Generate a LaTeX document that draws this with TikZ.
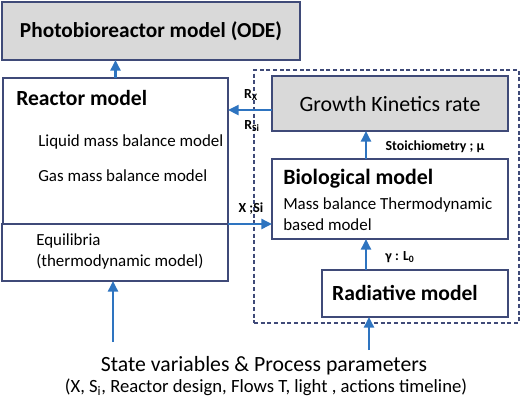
\documentclass[tikz,border=0pt]{standalone}
\usepackage{fontspec}
\setmainfont{Carlito}
\usetikzlibrary{arrows.meta,positioning}
\definecolor{boxline}{HTML}{3F4A78}
\definecolor{boxfill}{HTML}{D9D9D9}
\definecolor{flow}{HTML}{2E74C0}
\tikzset{
  modelbox/.style={draw=boxline, line width=0.8pt, inner sep=0pt, outer sep=0pt},
  greybox/.style={modelbox, fill=boxfill},
  groupbox/.style={draw=boxline, line width=0.8pt, dash pattern=on 3pt off 2pt},
  txt/.style={inner sep=0pt, anchor=west, font=\fontsize{12.7}{15.75}\selectfont},
  head/.style={inner sep=0pt, anchor=west, font=\bfseries\fontsize{16.2}{19}\selectfont},
  lab/.style={inner sep=0pt, font=\bfseries\fontsize{10.4}{11}\selectfont},
  arr/.style={-{Triangle[length=8pt,width=7.5pt]}, line width=1.8pt, draw=flow}
}

\begin{document}
\begin{tikzpicture}[x=0.75pt,y=-0.75pt]
  \useasboundingbox (0,0) rectangle (526,408);
  % grouped sub-models
  \node[groupbox, minimum width=198.75pt, minimum height=189.75pt] (group) at (386.5,196.5) {};
  % boxes
  \node[greybox, minimum width=223.5pt, minimum height=43.5pt,
        font=\bfseries\fontsize{16}{19}\selectfont] (pbr) at (151,31) {Photobioreactor model (ODE)};
  \node[modelbox, minimum width=168.75pt, minimum height=109.5pt] (reactor) at (115.5,151) {};
  \node[modelbox, minimum width=169.5pt, minimum height=42.75pt] (equil) at (115,252.5) {};
  \node[greybox, minimum width=177pt, minimum height=41.25pt,
        font=\fontsize{16.4}{19}\selectfont] (growth) at (390,103.5) {Growth Kinetics rate};
  \node[modelbox, minimum width=177pt, minimum height=60pt] (bio) at (390,199) {};
  \node[modelbox, minimum width=139.5pt, minimum height=35.25pt] (rad) at (415,293.5) {};
  % box texts
  \node[head] (reactorhead) at (16,98) {Reactor model};
  \node[txt] (liquid) at (38,142) {Liquid mass balance model};
  \node[txt] (gas) at (38,176) {Gas mass balance model};
  \node[txt, align=left] (equiltxt) at (36,251) {Equilibria\\(thermodynamic model)};
  \node[head, font=\bfseries\fontsize{16.4}{19}\selectfont] (biohead) at (283,179) {Biological model};
  \node[txt, align=left] (biotxt) at (283,214) {Mass balance Thermodynamic\\based model};
  \node[head, anchor=center] (radhead) at (405,293) {Radiative model};
  % inputs
  \node[inner sep=0pt, font=\fontsize{16.3}{19}\selectfont] (state) at (264,366) {State variables \& Process parameters};
  \node[inner sep=0pt, font=\fontsize{14}{16}\selectfont] (params) at (266,387)
    {(X, S\textsubscript{i}, Reactor design, Flows T, light , actions timeline)};
  \coordinate (feedL) at (113,342);
  \coordinate (feedR) at (369,350);
  % connectors
  \draw[arr] (reactor.north) -- (reactor.north |- pbr.south);
  \draw[arr] ([yshift=-4.9pt]growth.west) -- ([yshift=-4.9pt]growth.west -| reactor.east);
  \draw[arr] (reactor.south east) -- (reactor.south east -| bio.west);
  \draw[arr] ([xshift=-18pt]bio.north) -- ([xshift=-18pt]growth.south);
  \draw[arr] ([xshift=-18pt]bio.south |- rad.north) -- ([xshift=-18pt]bio.south);
  \draw[arr] (feedL) -- (feedL |- equil.south);
  \draw[arr] (feedR) -- (feedR |- rad.south);
  % labels
  \node[lab] (rx) at (251,95) {R\textsubscript{X}};
  \node[lab] (rsi) at (252,126) {R\textsubscript{Si}};
  \node[lab] (xsi) at (251,209) {X ;Si};
  \node[lab] (stoich) at (435,147) {Stoichiometry ; µ};
  \node[lab] (gamma) at (400,257) {γ : L\textsubscript{0}};
\end{tikzpicture}
\end{document}
